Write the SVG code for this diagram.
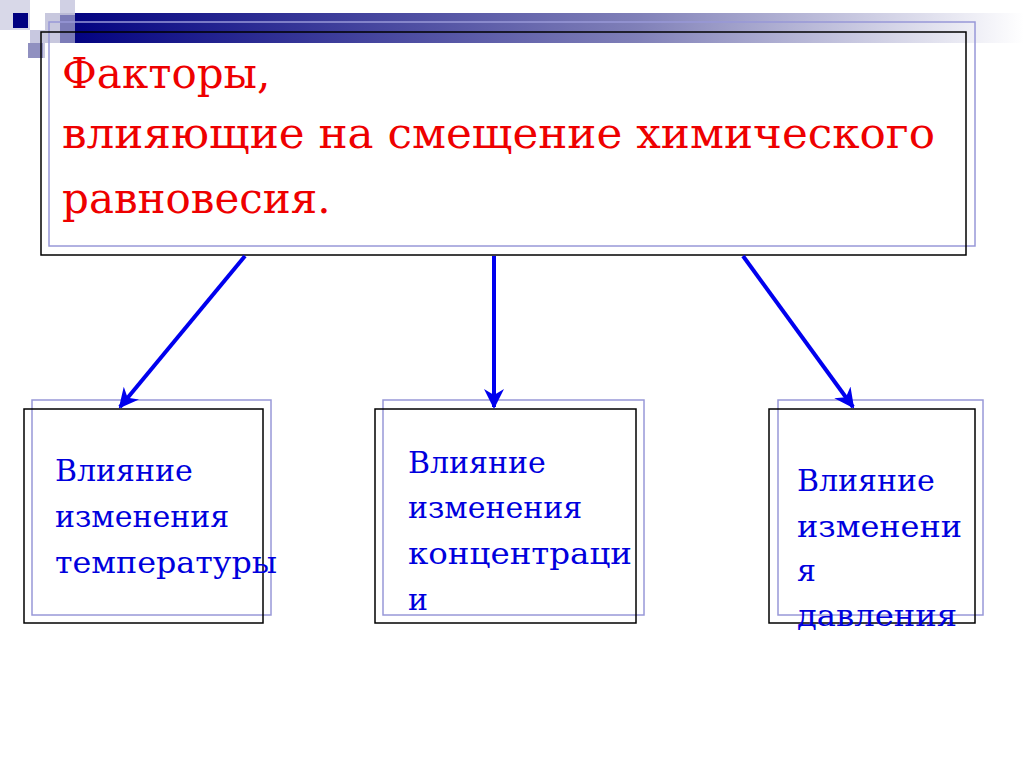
<svg xmlns="http://www.w3.org/2000/svg" width="1024" height="767" viewBox="0 0 1024 767">
<defs>
<linearGradient id="g" x1="0" x2="1"><stop offset="0" stop-color="#000080"/><stop offset="0.6" stop-color="#8080b8"/><stop offset="1" stop-color="#ffffff"/></linearGradient>
<marker id="ah" viewBox="0 0 10 10" refX="9" refY="5" markerWidth="5" markerHeight="5" orient="auto" markerUnits="strokeWidth"><path d="M0,0 L10,5 L0,10 L3,5 z" fill="#0000ee"/></marker>
</defs>
<style>
.b{fill:none;stroke:#000;stroke-width:1.5}
.l{fill:none;stroke:#9898d8;stroke-width:1.5}
.t{font-family:"DejaVu Serif",serif;fill:#ee0000;font-size:42px}
.s{font-family:"DejaVu Serif",serif;fill:#0000dd;font-size:30px}
.c{stroke:#0000ee;stroke-width:4;fill:none;marker-end:url(#ah)}
</style>
<rect width="1024" height="767" fill="#fff"/>
<g id="deco">
<rect x="60" y="13" width="964" height="30" fill="url(#g)"/>
<rect x="0" y="0" width="30" height="30" fill="#d8d8e8"/>
<rect x="60" y="0" width="15" height="15" fill="#d0d0e4"/>
<rect x="13" y="13" width="15" height="15" fill="#000080"/>
<rect x="45" y="13" width="30" height="30" fill="#b0b0d0" opacity="0.7"/>
<rect x="30" y="30" width="15" height="28" fill="#c8c8e0"/>
<rect x="28" y="43" width="15" height="15" fill="#9090c0"/>
</g>
<g id="title">
<rect class="l" x="49" y="22" width="926" height="224"/>
<rect class="b" x="41" y="32" width="925" height="223"/>
<text class="t" x="62" y="88">Факторы,</text>
<text class="t" x="62" y="148" textLength="873" lengthAdjust="spacingAndGlyphs">влияющие на смещение химического</text>
<text class="t" x="62" y="213">равновесия.</text>
</g>
<g id="n1">
<rect class="l" x="32" y="400" width="239" height="215"/>
<rect class="b" x="24" y="409" width="239" height="214"/>
<text class="s" x="55" y="481">Влияние</text>
<text class="s" x="55" y="527">изменения</text>
<text class="s" x="55" y="573" textLength="222" lengthAdjust="spacingAndGlyphs">температуры</text>
</g>
<g id="n2">
<rect class="l" x="383" y="400" width="261" height="215"/>
<rect class="b" x="375" y="409" width="261" height="214"/>
<text class="s" x="408" y="473">Влияние</text>
<text class="s" x="408" y="518">изменения</text>
<text class="s" x="408" y="564" textLength="224" lengthAdjust="spacingAndGlyphs">концентраци</text>
<text class="s" x="408" y="610">и</text>
</g>
<g id="n3">
<rect class="l" x="778" y="400" width="205" height="215"/>
<rect class="b" x="769" y="409" width="206" height="214"/>
<text class="s" x="797" y="491">Влияние</text>
<text class="s" x="797" y="537" textLength="165" lengthAdjust="spacingAndGlyphs">изменени</text>
<text class="s" x="797" y="581">я</text>
<text class="s" x="797" y="626" textLength="160" lengthAdjust="spacingAndGlyphs">давления</text>
</g>
<g id="connectors">
<line class="c" x1="245" y1="256" x2="120" y2="407"/>
<line class="c" x1="494" y1="256" x2="494" y2="407"/>
<line class="c" x1="743" y1="256" x2="853" y2="407"/>
</g>
</svg>
